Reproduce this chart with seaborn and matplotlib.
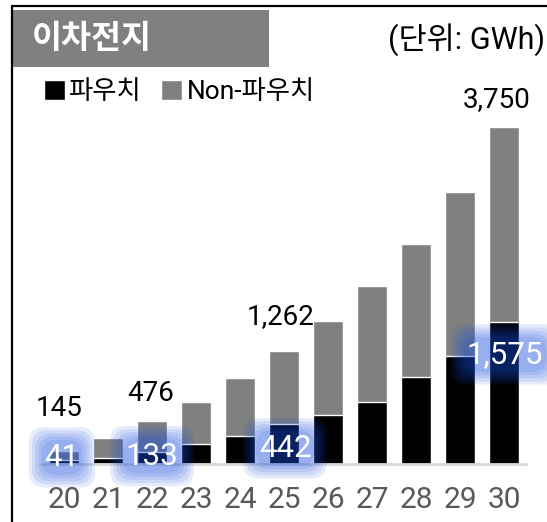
import numpy as np
import pandas as pd
import matplotlib
matplotlib.use("Agg")
import matplotlib.pyplot as plt
import seaborn as sns
from matplotlib.patches import Rectangle
from matplotlib.lines import Line2D

years = ["20", "21", "22", "23", "24", "25", "26", "27", "28", "29", "30"]
pouch = [41, 67, 133, 222, 311, 442, 545, 689, 967, 1200, 1575]
total = [145, 290, 476, 689, 956, 1262, 1590, 1979, 2446, 3030, 3750]

# which bars get labels, and where the label sits relative to the bar top (pixels)
total_labels = {0: (-5, 42), 2: (-1, 28), 5: (-3, 34), 10: (-7, 27)}
pouch_labels = {0: (-2, 3), 2: (0, -4), 5: (1, -24), 10: (1, -32)}

sns.set_theme(style="white")
plt.rcParams["font.family"] = ["Roboto", "Noto Sans CJK KR", "DejaVu Sans"]

df = pd.DataFrame({"year": years, "pouch": pouch, "total": total})
df["non_pouch"] = df["total"] - df["pouch"]

W, H = 547, 522
fig = plt.figure(figsize=(W / 100, H / 100), dpi=100)
ax = fig.add_axes([42 / W, (H - 464) / H, 484 / W, 4000 * 0.08987 / H])

sns.barplot(data=df, x="year", y="total", color="#808080", saturation=1,
            width=0.68, ax=ax, label="Non-파우치")
sns.barplot(data=df, x="year", y="pouch", color="#000000", saturation=1,
            width=0.68, ax=ax, label="파우치")
handles, labels = ax.get_legend_handles_labels()
if ax.get_legend() is not None:
    ax.get_legend().remove()

ax.set_xlim(-0.5, 10.5)
ax.set_ylim(0, 4000)
ax.set_xlabel("")
ax.set_ylabel("")
ax.set_yticks([])
for s in ["top", "right", "left"]:
    ax.spines[s].set_visible(False)
ax.spines["bottom"].set_color("#d9d9d9")
ax.spines["bottom"].set_linewidth(2)
ax.tick_params(axis="x", length=0, pad=16, labelsize=21.5, labelcolor="#595959")

for i, (dx, dy) in total_labels.items():
    ax.annotate(f"{total[i]:,}", (i, total[i]), xytext=(dx, dy),
                textcoords="offset pixels", ha="center", va="center",
                fontsize=20, color="black")

for i, (dx, dy) in pouch_labels.items():
    txt = f"{pouch[i]:,}"
    # soft blue glow behind the label, built from a few faint layers
    for pad in [0.5, 0.4, 0.3, 0.2, 0.1]:
        ax.annotate(txt, (i, pouch[i]), xytext=(dx, dy), textcoords="offset pixels",
                    ha="center", va="center", fontsize=22.5, color="none",
                    bbox=dict(boxstyle=f"round,pad={pad},rounding_size=0.5",
                              fc="#1750de", ec="none", alpha=0.11))
    ax.annotate(txt, (i, pouch[i]), xytext=(dx, dy), textcoords="offset pixels",
                ha="center", va="center", fontsize=22.5, color="white")

order = [labels.index("파우치"), labels.index("Non-파우치")]
fig.legend([handles[k] for k in order], [labels[k] for k in order],
           loc="center left", bbox_to_anchor=(20 / W, 1 - 92 / H), ncol=2,
           frameon=False, fontsize=19, handlelength=0.8, handleheight=0.8,
           handletextpad=0.15, columnspacing=0.75, labelcolor="#000000")

# header decoration: frame lines, grey title box, unit note
fig.add_artist(Line2D([12 / W, 12 / W], [0, 1 - 6 / H], color="black", lw=1.6))
fig.add_artist(Line2D([12 / W, 1], [1 - 6 / H, 1 - 6 / H], color="black", lw=1.6))
fig.add_artist(Rectangle((12 / W, 1 - 67 / H), 257 / W, 57 / H,
                         transform=fig.transFigure, fc="#808080", ec="none"))
fig.text(32 / W, 1 - 39 / H, "이차전지", color="white", fontsize=23.5,
         fontweight="bold", ha="left", va="center")
fig.text(545 / W, 1 - 40 / H, "(단위: GWh)", color="black", fontsize=22,
         ha="right", va="center")

fig.savefig("out.png", dpi=100)
